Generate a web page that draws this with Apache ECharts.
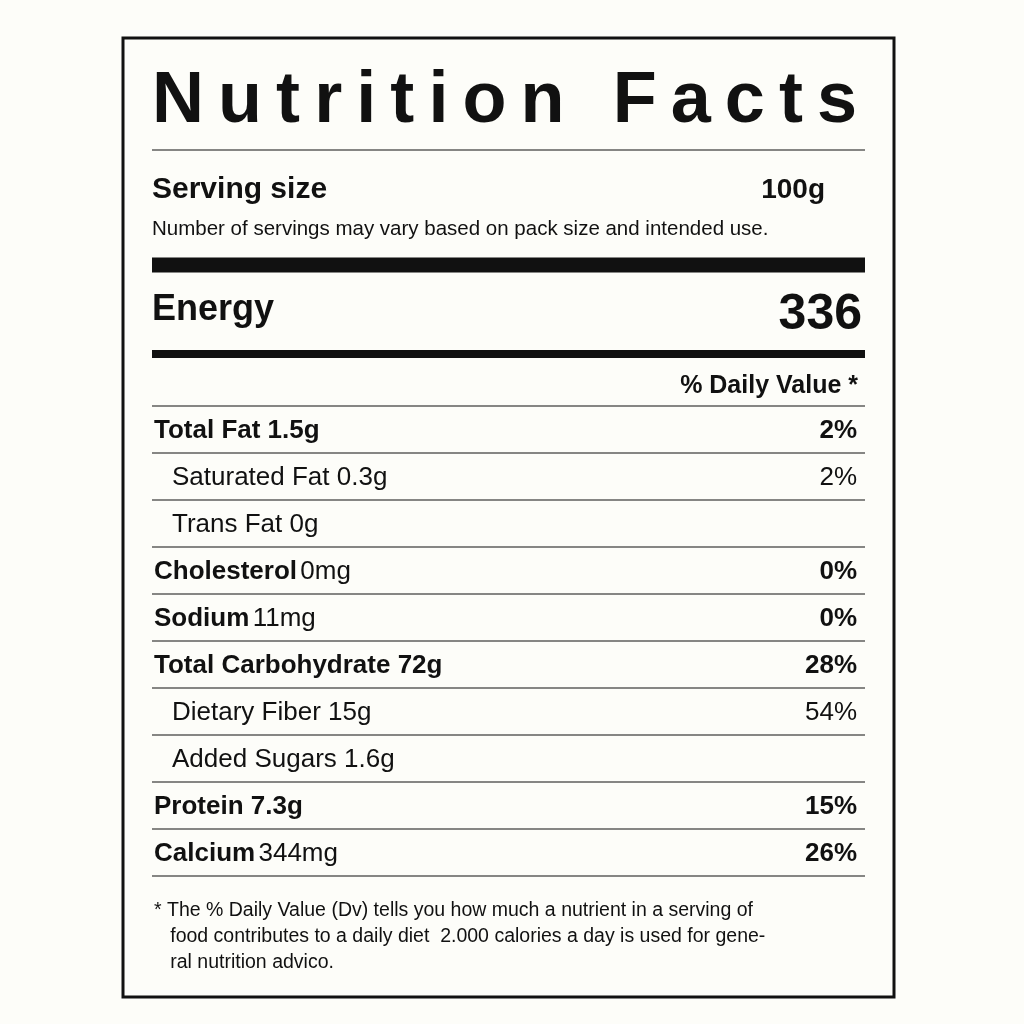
<!DOCTYPE html>
<html><head><meta charset="utf-8">
<script src="https://cdn.jsdelivr.net/npm/echarts@6/dist/echarts.min.js"></script>
<style>html,body{margin:0;background:#fdfdf9}#main{width:1024px;height:1024px}</style>
</head><body><div id="main"></div>
<script>
var myChart = echarts.init(document.getElementById('main'));

// 数据
var titleText = 'Nutrition Facts';
var servingSize = ['Serving size', '100g'];
var servingNote = 'Number of servings may vary based on pack size and intended use.';
var energy = ['Energy', '336'];
var dvHeader = '% Daily Value *';
var nutrientNames = ['Total Fat', 'Saturated Fat', 'Trans Fat', 'Cholesterol', 'Sodium', 'Total Carbohydrate', 'Dietary Fiber', 'Added Sugars', 'Protein', 'Calcium'];
var nutrientAmounts = ['1.5g', '0.3g', '0g', '0mg', '11mg', '72g', '15g', '1.6g', '7.3g', '344mg'];
var nutrientPercents = ['2%', '2%', '', '0%', '0%', '28%', '54%', '', '15%', '26%'];
var amountBold = [true, false, false, false, false, true, false, false, true, false];
var indented = [false, true, true, false, false, false, true, true, false, false];
var footnote = ['* The % Daily Value (Dv) tells you how much a nutrient in a serving of',
  '   food contributes to a daily diet  2.000 calories a day is used for gene-',
  '   ral nutrition advico.'];

var font = '"Liberation Sans", Arial, sans-serif';
var L = 152, R = 865;
var g = [];
function txt(x, y, t, size, bold, align) {
  g.push({ type: 'text', x: x, y: y, style: { text: t, fill: '#111', font: (bold ? 'bold ' : '') + size + 'px ' + font, textAlign: align || 'left', textVerticalAlign: 'middle' } });
}
function line(y, w) {
  g.push({ type: 'rect', shape: { x: L, y: y - w / 2, width: R - L, height: w }, style: { fill: '#111' } });
}
// 外框
g.push({ type: 'rect', shape: { x: 123, y: 38, width: 771, height: 959 }, style: { fill: '#fdfdf9', stroke: '#111', lineWidth: 3 } });

// 标题：逐字符铺满 152-857
var tFont = 'bold 72px ' + font;
var ctx = document.createElement('canvas').getContext('2d');
ctx.font = tFont;
var chars = titleText.split('');
var total = chars.reduce(function (s, c) { return s + ctx.measureText(c).width; }, 0);
var gap = (857 - 152 - total) / (chars.length - 1);
var cx = 152;
chars.forEach(function (c) {
  g.push({ type: 'text', x: cx, y: 102, style: { text: c, fill: '#111', font: tFont, textVerticalAlign: 'middle' } });
  cx += ctx.measureText(c).width + gap;
});

line(150, 1);
txt(L, 190, servingSize[0], 30, true);
txt(825, 190, servingSize[1], 28, true, 'right');
txt(L, 229, servingNote, 20.5, false);
line(265, 15);
txt(L, 310, energy[0], 36, true);
txt(862, 315, energy[1], 50, true, 'right');
line(354, 8);
txt(858, 386, dvHeader, 25, true, 'right');
line(406, 1);

var rowH = 47, y0 = 406;
nutrientNames.forEach(function (n, i) {
  var cy = y0 + rowH * i + 25;
  var x = indented[i] ? 172 : 154;
  var name = indented[i] ? '{r|' + n + ' ' + nutrientAmounts[i] + '}' :
    (amountBold[i] ? '{b|' + n + ' ' + nutrientAmounts[i] + '}' : '{b|' + n + '} {r|' + nutrientAmounts[i] + '}');
  g.push({ type: 'text', x: x, y: cy, style: { text: name, textVerticalAlign: 'middle',
    rich: { b: { font: 'bold 26px ' + font, fill: '#111' }, r: { font: '26px ' + font, fill: '#111' } } } });
  if (nutrientPercents[i]) txt(857, cy, nutrientPercents[i], 26, !indented[i], 'right');
  line(y0 + rowH * (i + 1), 1);
});
footnote.forEach(function (t, i) { txt(L + 2, 911 + i * 26, t, 19.5, false); });

myChart.setOption({ backgroundColor: '#fdfdf9', graphic: g });
</script></body></html>
